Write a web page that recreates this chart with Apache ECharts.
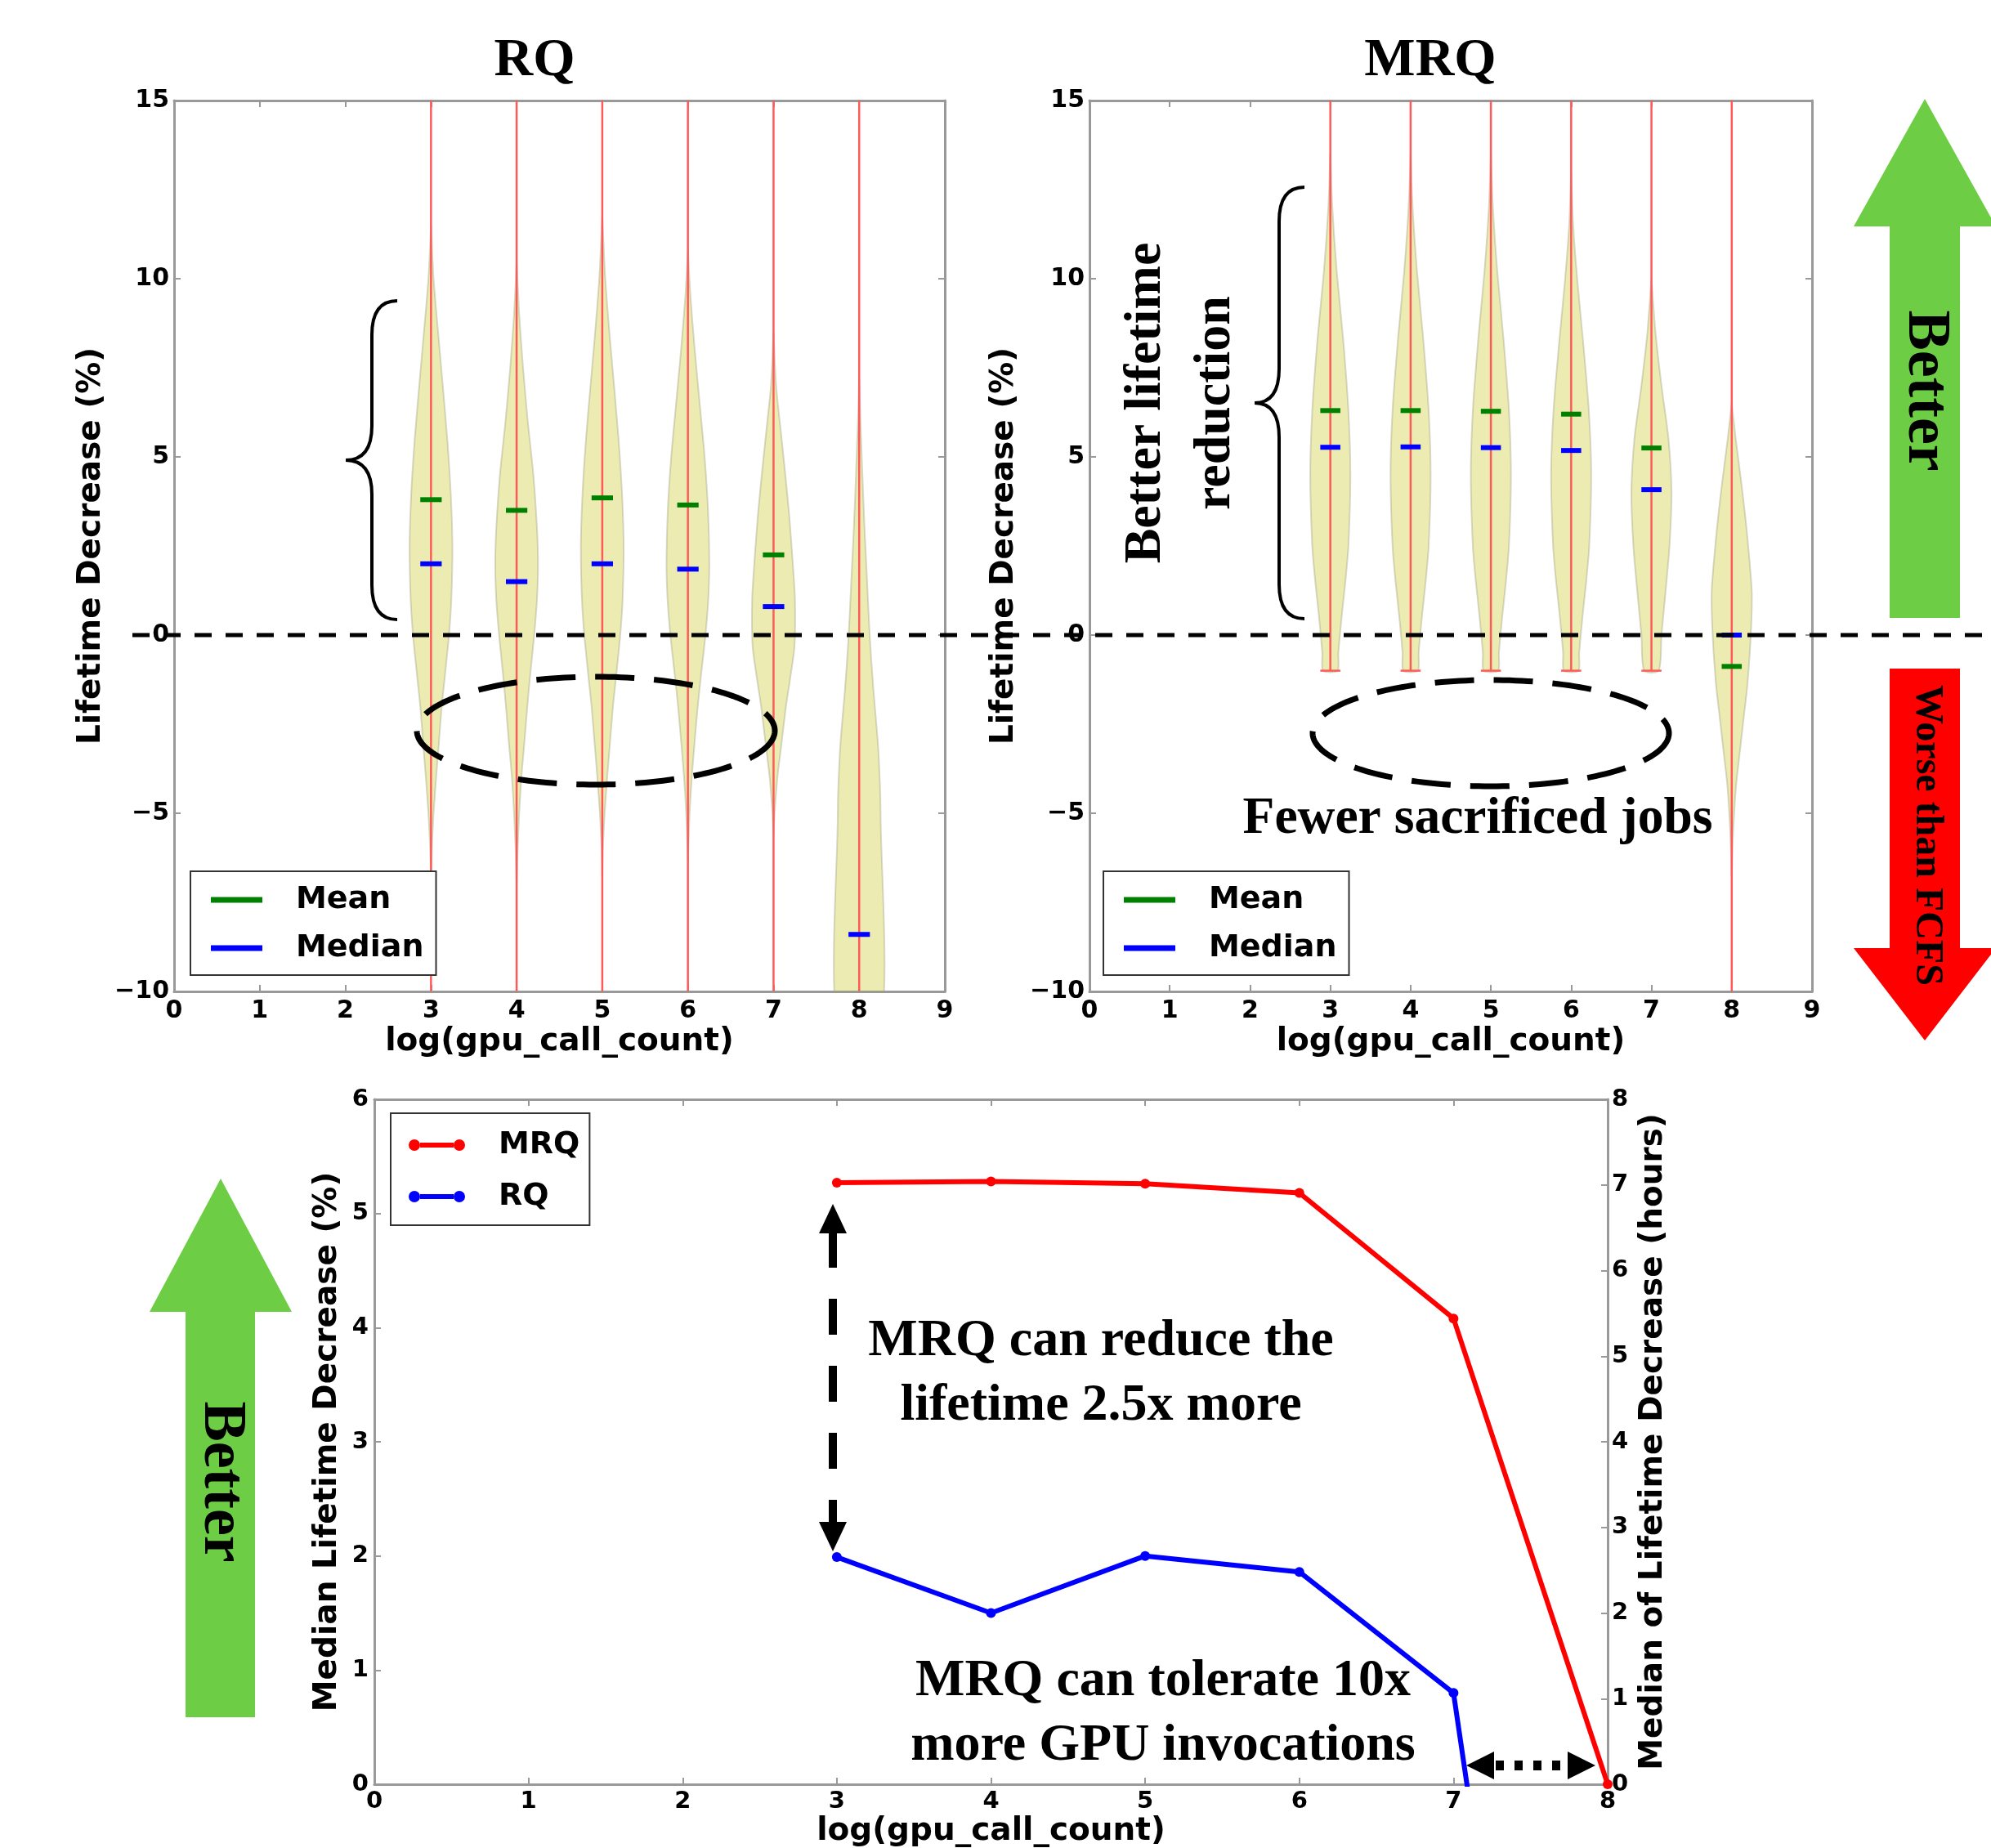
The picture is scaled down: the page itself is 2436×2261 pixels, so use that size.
<!DOCTYPE html>
<html><head><meta charset="utf-8">
<script src="https://cdn.jsdelivr.net/npm/echarts@6/dist/echarts.min.js"></script>
<style>html,body{margin:0;padding:0;background:#fff}#c{width:2436px;height:2261px}</style>
</head><body><div id="c"></div>
<script>
// ---------------- data ----------------
const positions = [3, 4, 5, 6, 7, 8];            // log(gpu_call_count)
const violinYTicks = [-10, -5, 0, 5, 10, 15];
const violinXTicks = [0, 1, 2, 3, 4, 5, 6, 7, 8, 9];
const lineXTicks = [0, 1, 2, 3, 4, 5, 6, 7, 8];
const lineYLeftTicks = [0, 1, 2, 3, 4, 5, 6];
const lineYRightTicks = [0, 1, 2, 3, 4, 5, 6, 7, 8];

// RQ violins
const rqMean   = [3.8, 3.5, 3.85, 3.65, 2.25, -11.5];
const rqMedian = [2.0, 1.5, 2.0, 1.85, 0.8, -8.4];
const rqMin    = [-11, -11, -11, -11, -11, -11];
const rqMax    = [16, 16, 16, 16, 16, 16];
// density profiles: [value, relative width]
const rqProfile3 = [[11.5,0],[10,0.12],[8.3,0.36],[7,0.55],[5.5,0.76],[4,0.92],[2.5,1],[1,0.95],[0,0.84],[-1.2,0.64],[-2,0.5],[-3.1,0.36],[-4,0.24],[-5,0.12],[-6,0.04],[-7,0]];
const rqProfile4 = [[10.5,0],[9,0.12],[7.5,0.3],[6,0.52],[4.5,0.78],[3,0.95],[2,1],[1,0.95],[0,0.82],[-1.2,0.62],[-2,0.5],[-3.1,0.35],[-4,0.22],[-5,0.12],[-6,0.05],[-7,0]];
const rqProfile5 = [[11.8,0],[10,0.14],[8.3,0.36],[7,0.55],[5.5,0.76],[4,0.92],[2.5,1],[1,0.95],[0,0.84],[-1.2,0.64],[-2,0.5],[-3.1,0.35],[-4,0.23],[-5,0.11],[-6,0.03],[-6.8,0]];
const rqProfile6 = [[10.8,0],[9.5,0.12],[8,0.32],[6.5,0.55],[5,0.78],[3.5,0.94],[2,1],[1,0.95],[0,0.82],[-1.2,0.6],[-2,0.46],[-3.1,0.3],[-4,0.18],[-5,0.08],[-6.3,0]];
const rqProfile7 = [[8.5,0],[7,0.12],[5.6,0.36],[4.5,0.55],[3.3,0.74],[2,0.9],[1,1],[-0.3,0.98],[-1.2,0.78],[-2,0.58],[-3.1,0.36],[-4,0.18],[-5,0.05],[-5.6,0]];
const rqProfile8 = [[7.2,0],[6,0.06],[4.5,0.15],[3,0.25],[1.5,0.37],[0,0.49],[-1.5,0.66],[-3,0.87],[-4.2,0.97],[-5,1],[-11,1]];
const rqProfiles = [rqProfile3, rqProfile4, rqProfile5, rqProfile6, rqProfile7, rqProfile8];

// MRQ violins
const mrqMean   = [6.3, 6.3, 6.28, 6.2, 5.25, -0.88];
const mrqMedian = [5.27, 5.28, 5.26, 5.18, 4.08, 0.0];
const mrqMin    = [-1, -1, -1, -1, -1, -11];
const mrqMax    = [16, 16, 16, 16, 16, 16];
const mrqProfile3 = [[13.5,0],[12,0.1],[10.2,0.32],[8.3,0.64],[6.3,0.9],[4.5,1],[2.5,0.9],[1.5,0.75],[0.6,0.58],[-0.5,0.4],[-1,0.36]];
const mrqProfile4 = [[13.5,0],[12,0.1],[10.2,0.32],[8.3,0.63],[6.3,0.9],[4.5,1],[2.5,0.9],[1.5,0.75],[0.6,0.58],[-0.5,0.4],[-1,0.36]];
const mrqProfile5 = [[13.5,0],[12,0.1],[10.2,0.32],[8.3,0.63],[6.3,0.9],[4.5,1],[2.5,0.9],[1.5,0.75],[0.6,0.58],[-0.5,0.4],[-1,0.36]];
const mrqProfile6 = [[13,0],[11.5,0.1],[10,0.3],[8.2,0.6],[6.3,0.88],[4.5,1],[2.5,0.9],[1.5,0.75],[0.6,0.58],[-0.5,0.4],[-1,0.36]];
const mrqProfile7 = [[10,0],[8.5,0.2],[7,0.5],[5.5,0.85],[4,1],[2.5,0.9],[1.2,0.7],[0,0.5],[-1,0.36]];
const mrqProfile8 = [[6.5,0],[5.5,0.2],[4.4,0.45],[3.5,0.64],[2.5,0.82],[1.2,1],[0,0.95],[-1.4,0.78],[-2.3,0.6],[-3.3,0.4],[-4.2,0.22],[-5.2,0.1],[-6,0.04],[-6.8,0]];
const mrqProfiles = [mrqProfile3, mrqProfile4, mrqProfile5, mrqProfile6, mrqProfile7, mrqProfile8];

// bottom line chart: median lifetime decrease (%)
const mrqLine = [5.27, 5.28, 5.26, 5.18, 4.08, 0.0];
const rqLine  = [1.99, 1.5, 2.0, 1.86, 0.8, -8.4];

// ---------------- styles ----------------
const SANS = 'DejaVu Sans';
const SERIF = 'Liberation Serif';
const AX_COLOR = '#999';
const tickFont = { fontFamily: SANS, fontWeight: 'bold', color: '#000' };
const nameFont = { fontFamily: SANS, fontWeight: 'bold', color: '#000', fontSize: 39 };
const minus = v => String(v).replace('-', '\u2212');

function valAxis(o) {
  return Object.assign({
    type: 'value', splitLine: { show: false },
    axisLine: { show: true, onZero: false, lineStyle: { color: AX_COLOR, width: 3 } },
    axisTick: { show: true, inside: true, length: 8, lineStyle: { color: AX_COLOR, width: 2 } },
    axisLabel: { show: false }
  }, o);
}
const ext = a => ({ min: a[0], max: a[a.length - 1], interval: a[1] - a[0] });

function violinSeries(name, axi, profiles, mins, maxs) {
  return {
    type: 'custom', name: name, xAxisIndex: axi, yAxisIndex: axi, clip: true, z: 2,
    data: positions.map((p, i) => [p, i]),
    encode: { x: 0 },
    renderItem: function (params, api) {
      const p = api.value(0), i = api.value(1);
      const prof = profiles[i];
      const left = prof.map(d => api.coord([p - 0.25 * d[1], d[0]]));
      const right = prof.slice().reverse().map(d => api.coord([p + 0.25 * d[1], d[0]]));
      const top = api.coord([p, maxs[i]]), bot = api.coord([p, mins[i]]);
      const cl = api.coord([p - 0.125, mins[i]]), cr = api.coord([p + 0.125, mins[i]]);
      const tl = api.coord([p - 0.125, maxs[i]]), tr = api.coord([p + 0.125, maxs[i]]);
      const red = { stroke: '#ff5a5a', lineWidth: 2.5 };
      return { type: 'group', children: [
        { type: 'polygon', shape: { points: left.concat(right), smooth: 0.25 },
          style: { fill: 'rgba(191,191,0,0.3)', stroke: 'rgba(150,150,120,0.35)', lineWidth: 2 } },
        { type: 'line', shape: { x1: top[0], y1: top[1], x2: bot[0], y2: bot[1] }, style: red },
        { type: 'line', shape: { x1: cl[0], y1: cl[1], x2: cr[0], y2: cr[1] }, style: red },
        { type: 'line', shape: { x1: tl[0], y1: tl[1], x2: tr[0], y2: tr[1] }, style: red }
      ]};
    }
  };
}
function markerSeries(name, color, axi, values) {
  return {
    type: 'custom', name: name, xAxisIndex: axi, yAxisIndex: axi, clip: true, z: 5,
    itemStyle: { color: color },
    data: positions.map((p, i) => [p, values[i]]),
    encode: { x: 0, y: 1 },
    renderItem: function (params, api) {
      const a = api.coord([api.value(0) - 0.125, api.value(1)]);
      const b = api.coord([api.value(0) + 0.125, api.value(1)]);
      return { type: 'line', shape: { x1: a[0], y1: a[1], x2: b[0], y2: b[1] },
               style: { stroke: color, lineWidth: 6 } };
    }
  };
}

const legendBase = {
  orient: 'vertical', selectedMode: false, borderColor: '#333', borderWidth: 2,
  backgroundColor: '#fff', z: 20,
  textStyle: { fontFamily: SANS, fontWeight: 'bold', fontSize: 38, color: '#000', padding: [0, 0, 0, 36] }
};
const lineIcon = 'path://M0,7A7,7,0,1,0,14,7A7,7,0,1,0,0,7ZM14,4L55,4L55,10L14,10ZM55,7A7,7,0,1,0,69,7A7,7,0,1,0,55,7Z';

const option = {
  animation: false,
  backgroundColor: '#fff',
  grid: [
    { left: 213, top: 123, width: 943, height: 1090, outerBoundsMode: 'none' },
    { left: 1333, top: 123, width: 884, height: 1090, outerBoundsMode: 'none' },
    { left: 458, top: 1345, width: 1509, height: 838, outerBoundsMode: 'none' }
  ],
  xAxis: [
    valAxis(Object.assign(ext(violinXTicks), { gridIndex: 0, position: 'bottom',
      axisLabel: Object.assign({ show: true, fontSize: 30, margin: 9, showMinLabel: true, showMaxLabel: true }, tickFont),
      name: 'log(gpu_call_count)', nameLocation: 'middle', nameGap: 42, nameTextStyle: nameFont })),
    valAxis(Object.assign(ext(violinXTicks), { gridIndex: 0, position: 'top' })),
    valAxis(Object.assign(ext(violinXTicks), { gridIndex: 1, position: 'bottom',
      axisLabel: Object.assign({ show: true, fontSize: 30, margin: 9, showMinLabel: true, showMaxLabel: true }, tickFont),
      name: 'log(gpu_call_count)', nameLocation: 'middle', nameGap: 42, nameTextStyle: nameFont })),
    valAxis(Object.assign(ext(violinXTicks), { gridIndex: 1, position: 'top' })),
    valAxis(Object.assign(ext(lineXTicks), { gridIndex: 2, position: 'bottom',
      axisLabel: Object.assign({ show: true, fontSize: 29, margin: 7, showMinLabel: true, showMaxLabel: true }, tickFont),
      name: 'log(gpu_call_count)', nameLocation: 'middle', nameGap: 38, nameTextStyle: nameFont })),
    valAxis(Object.assign(ext(lineXTicks), { gridIndex: 2, position: 'top' }))
  ],
  yAxis: [
    valAxis(Object.assign(ext(violinYTicks), { gridIndex: 0, position: 'left',
      axisLabel: Object.assign({ show: true, fontSize: 30, margin: 6, formatter: minus, showMinLabel: true, showMaxLabel: true }, tickFont),
      name: 'Lifetime Decrease (%)', nameLocation: 'middle', nameGap: 82, nameRotate: 90, nameTextStyle: nameFont })),
    valAxis(Object.assign(ext(violinYTicks), { gridIndex: 0, position: 'right' })),
    valAxis(Object.assign(ext(violinYTicks), { gridIndex: 1, position: 'left',
      axisLabel: Object.assign({ show: true, fontSize: 30, margin: 6, formatter: minus, showMinLabel: true, showMaxLabel: true }, tickFont),
      name: 'Lifetime Decrease (%)', nameLocation: 'middle', nameGap: 85, nameRotate: 90, nameTextStyle: nameFont })),
    valAxis(Object.assign(ext(violinYTicks), { gridIndex: 1, position: 'right' })),
    valAxis(Object.assign(ext(lineYLeftTicks), { gridIndex: 2, position: 'left',
      axisLabel: Object.assign({ show: true, fontSize: 29, margin: 7, showMinLabel: true, showMaxLabel: true }, tickFont),
      name: 'Median Lifetime Decrease (%)', nameLocation: 'middle', nameGap: 36, nameRotate: 90, nameTextStyle: nameFont })),
    valAxis(Object.assign(ext(lineYRightTicks), { gridIndex: 2, position: 'right',
      axisLabel: Object.assign({ show: true, fontSize: 29, margin: 5, showMinLabel: true, showMaxLabel: true }, tickFont),
      name: 'Median of Lifetime Decrease (hours)', nameLocation: 'middle', nameGap: 31, nameRotate: 90, nameTextStyle: nameFont }))
  ],
  legend: [
    Object.assign({}, legendBase, { data: ['Mean', 'Median'], left: 233, top: 1066, icon: 'rect',
      itemWidth: 63, itemHeight: 7, itemGap: 21, padding: [16, 15, 14, 25] }),
    Object.assign({}, legendBase, { data: ['Mean', 'Median'], left: 1350, top: 1066, icon: 'rect',
      itemWidth: 63, itemHeight: 7, itemGap: 21, padding: [16, 15, 14, 25] }),
    Object.assign({}, legendBase, { data: ['MRQ', 'RQ'], left: 478, top: 1362, icon: lineIcon,
      itemWidth: 69, itemHeight: 14, itemGap: 25, padding: [20, 12, 16, 22] })
  ],
  series: [
    violinSeries('RQ violin', 0, rqProfiles, rqMin, rqMax),
    markerSeries('Mean', '#008000', 0, rqMean),
    markerSeries('Median', '#0000ff', 0, rqMedian),
    violinSeries('MRQ violin', 2, mrqProfiles, mrqMin, mrqMax),
    markerSeries('Mean', '#008000', 2, mrqMean),
    markerSeries('Median', '#0000ff', 2, mrqMedian),
    { type: 'line', name: 'MRQ', xAxisIndex: 4, yAxisIndex: 4, clip: true, z: 4,
      data: positions.map((p, i) => [p, mrqLine[i]]),
      symbol: 'circle', symbolSize: 12, showSymbol: true,
      itemStyle: { color: '#ff0000' }, lineStyle: { color: '#ff0000', width: 6 } },
    { type: 'line', name: 'RQ', xAxisIndex: 4, yAxisIndex: 4, clip: true, z: 4,
      data: positions.map((p, i) => [p, rqLine[i]]),
      symbol: 'circle', symbolSize: 12, showSymbol: true,
      itemStyle: { color: '#0000ff' }, lineStyle: { color: '#0000ff', width: 6 } }
  ]
};

const chart = echarts.init(document.getElementById('c'), null, { renderer: 'canvas', width: 2436, height: 2261 });
chart.setOption(option);

// ---------------- annotations ----------------
function txt(x, y, text, size, rot, extra) {
  return { type: 'text', x: x, y: y, rotation: rot || 0, z: 100,
    style: Object.assign({ text: text, font: 'bold ' + size + 'px "' + SERIF + '"', fill: '#000',
      align: 'center', verticalAlign: 'middle', textAlign: 'center', textVerticalAlign: 'middle' }, extra || {}) };
}
function brace(x0, s, t, y0, ym, y1, r) {
  const st = { stroke: '#000', lineWidth: 4, fill: null };
  return [
    { type: 'bezierCurve', z: 100, shape: { x1: x0, y1: y0, cpx1: s, cpy1: y0, x2: s, y2: y0 + r }, style: st },
    { type: 'line', z: 100, shape: { x1: s, y1: y0 + r, x2: s, y2: ym - r }, style: st },
    { type: 'bezierCurve', z: 100, shape: { x1: s, y1: ym - r, cpx1: s, cpy1: ym, x2: t, y2: ym }, style: st },
    { type: 'bezierCurve', z: 100, shape: { x1: t, y1: ym, cpx1: s, cpy1: ym, x2: s, y2: ym + r }, style: st },
    { type: 'line', z: 100, shape: { x1: s, y1: ym + r, x2: s, y2: y1 - r }, style: st },
    { type: 'bezierCurve', z: 100, shape: { x1: s, y1: y1 - r, cpx1: s, cpy1: y1, x2: x0, y2: y1 }, style: st }
  ];
}
function dashedEllipse(cx, cy, rx, ry) {
  const pts = [];
  for (let k = 0; k < 180; k++) { const a = k / 180 * 2 * Math.PI; pts.push([cx + rx * Math.cos(a), cy + ry * Math.sin(a)]); }
  return { type: 'polygon', z: 100, shape: { points: pts },
    style: { fill: null, stroke: '#000', lineWidth: 7, lineDash: [48, 24] } };
}
const zeroY = chart.convertToPixel({ gridIndex: 0 }, [0, 0])[1];
const GREEN = '#6dce45';

const graphics = [
  // titles
  txt(654, 75, 'RQ', 66),
  txt(1750, 75, 'MRQ', 66),
  // zero line
  { type: 'line', z: 90, shape: { x1: 162, y1: zeroY, x2: 2436, y2: zeroY },
    style: { stroke: '#000', lineWidth: 5, lineDash: [21, 17] } },
  // braces
  ...brace(486, 455, 423, 368, 563, 758, 42),
  ...brace(1596, 1565, 1535, 229, 493, 757, 42),
  // ellipses
  dashedEllipse(729, 894, 219, 66),
  dashedEllipse(1824, 897, 218, 65),
  // texts in top panels
  txt(1445, 493, 'Better lifetime\nreduction', 64, Math.PI / 2, { lineHeight: 85 }),
  txt(1808, 1003, 'Fewer sacrificed jobs', 63.5),
  // right arrows
  { type: 'polygon', z: 100, shape: { points: [[2355,121],[2442,277],[2398,277],[2398,756],[2312,756],[2312,277],[2268,277]] }, style: { fill: GREEN } },
  txt(2355, 478, 'Better', 74, -Math.PI / 2),
  { type: 'polygon', z: 100, shape: { points: [[2312,818],[2398,818],[2398,1160],[2442,1160],[2355,1273],[2268,1160],[2312,1160]] }, style: { fill: '#ff0000' } },
  txt(2357, 1022, 'Worse than FCFS', 48, -Math.PI / 2),
  // bottom-left arrow
  { type: 'polygon', z: 100, shape: { points: [[270,1442],[357,1605],[312,1605],[312,2101],[227,2101],[227,1605],[183,1605]] }, style: { fill: GREEN } },
  txt(270, 1813, 'Better', 74, -Math.PI / 2),
  // bottom chart: vertical dashed double arrow
  { type: 'polygon', z: 100, shape: { points: [[1019,1473],[1002,1509],[1036,1509]] }, style: { fill: '#000' } },
  { type: 'line', z: 100, shape: { x1: 1019, y1: 1507, x2: 1019, y2: 1866 }, style: { stroke: '#000', lineWidth: 10, lineDash: [44, 38] } },
  { type: 'polygon', z: 100, shape: { points: [[1019,1898],[1002,1862],[1036,1862]] }, style: { fill: '#000' } },
  txt(1347, 1681, 'MRQ can reduce the\nlifetime 2.5x more', 64, 0, { lineHeight: 79 }),
  // horizontal dotted double arrow
  { type: 'polygon', z: 100, shape: { points: [[1794,2160],[1828,2143],[1828,2177]] }, style: { fill: '#000' } },
  { type: 'line', z: 100, shape: { x1: 1830, y1: 2160, x2: 1918, y2: 2160 }, style: { stroke: '#000', lineWidth: 12, lineDash: [10, 13] } },
  { type: 'polygon', z: 100, shape: { points: [[1952,2160],[1918,2143],[1918,2177]] }, style: { fill: '#000' } },
  txt(1423, 2097, 'MRQ can tolerate 10x\nmore GPU invocations', 64, 0, { lineHeight: 79 })
];
chart.setOption({ graphic: graphics });
</script>
</body></html>
